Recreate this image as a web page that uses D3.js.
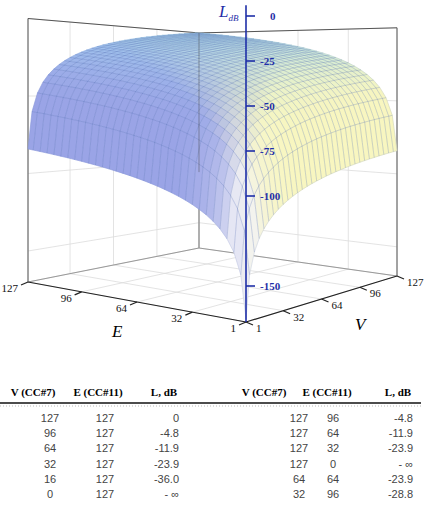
<!DOCTYPE html>
<html><head><meta charset="utf-8">
<script src="https://cdn.jsdelivr.net/npm/d3@7"></script>
<style>body{margin:0;background:#fff}svg{display:block}</style>
</head><body>
<svg id="chart" width="427" height="514"></svg>
<script>
// controller grid values (same for V and E) and the per-controller gain in dB read at each one
var ctrlSteps = [1,4,8,12,16,20,24,28,32,36,40,44,48,52,56,60,64,68,72,76,80,84,88,92,96,100,104,108,112,116,120,124,127];
var gainDb = [-84.15,-60.07,-48.03,-40.98,-36.0,-32.11,-28.94,-26.27,-23.94,-21.9,-20.07,-18.41,-16.9,-15.51,-14.22,-13.03,-11.9,-10.85,-9.86,-8.92,-8.03,-7.18,-6.37,-5.6,-4.86,-4.15,-3.47,-2.82,-2.18,-1.57,-0.98,-0.42,0];
var axisTicks = [1,32,64,96,127];
var zTicks = [0,-25,-50,-75,-100,-150];
var zGrid = [-150,-100,-50,0];
var tableHead = ["V  (CC#7)","E (CC#11)","L, dB","V  (CC#7)","E (CC#11)","L, dB"];
var tableLeft = [["127","127","0"],["96","127","-4.8"],["64","127","-11.9"],["32","127","-23.9"],["16","127","-36.0"],["0","127","- \u221e"]];
var tableRight = [["127","96","-4.8"],["127","64","-11.9"],["127","32","-23.9"],["127","0","- \u221e"],["64","64","-23.9"],["32","96","-28.8"]];

var svg = d3.select("#chart");
var u = d3.scaleLinear().domain([1,127]).range([0,1]);
var zf = -170;
// floor corners: front, E=127 end, V=127 end, back
var C = {f:[246,322,1.8], e:[28,282,1.55], v:[397,276,1.46], b:[199,248,1.265]};
function proj(E, V, z) {
  var a = u(E), c = u(V), r = [];
  for (var i = 0; i < 3; i++)
    r[i] = C.f[i]*(1-a)*(1-c) + C.e[i]*a*(1-c) + C.v[i]*(1-a)*c + C.b[i]*a*c;
  return [r[0], r[1] - (z - zf) * r[2]];
}
var line = d3.line();
var g = svg.append("g");

// back walls and floor grid
var grid = g.append("g").attr("stroke", "#dcdcdc").attr("fill", "none").attr("stroke-width", 0.8);
axisTicks.forEach(function(t) {
  grid.append("path").attr("d", line([proj(127, t, zf), proj(127, t, 0)]));
  grid.append("path").attr("d", line([proj(t, 127, zf), proj(t, 127, 0)]));
  grid.append("path").attr("d", line([proj(t, 1, zf), proj(t, 127, zf)]));
  grid.append("path").attr("d", line([proj(1, t, zf), proj(127, t, zf)]));
});
zGrid.forEach(function(z) {
  grid.append("path").attr("d", line([proj(127, 1, z), proj(127, 127, z), proj(1, 127, z)]));
});
var box = g.append("g").attr("stroke", "#555").attr("fill", "none").attr("stroke-width", 1);
box.append("path").attr("d", line([proj(127,1,zf), proj(127,1,0), proj(127,127,0), proj(1,127,0), proj(1,127,zf)]));
box.append("path").attr("d", line([proj(127,127,zf), proj(127,127,0)])).attr("stroke", "#777");
box.append("path").attr("d", line([proj(127,1,zf), proj(127,127,zf), proj(1,127,zf)])).attr("stroke", "#999");

// surface
var lav = "#9aa4e6", yel = "#f8f6c0", cyan = "#a6def3";
var quads = [];
var n = ctrlSteps.length;
for (var i = 0; i < n - 1; i++) for (var j = 0; j < n - 1; j++) {
  var E0 = ctrlSteps[i], E1 = ctrlSteps[i+1], V0 = ctrlSteps[j], V1 = ctrlSteps[j+1];
  var z00 = gainDb[i] + gainDb[j], z10 = gainDb[i+1] + gainDb[j], z01 = gainDb[i] + gainDb[j+1], z11 = gainDb[i+1] + gainDb[j+1];
  var gE = (gainDb[i+1] - gainDb[i]) / (E1 - E0), gV = (gainDb[j+1] - gainDb[j]) / (V1 - V0);
  var m = gE + gV;
  var t = gE / (gE + gV);
  var base = d3.interpolateRgb(lav, yel)(d3.scaleLinear().domain([0.3, 0.7]).clamp(true)(t));
  var flat = Math.exp(-m / 0.5);
  var col = d3.interpolateRgb(base, cyan)(Math.min(1, flat * 1.3));
  var both = Math.min(gE, gV);
  if (both > 0.4) col = d3.interpolateRgb(col, "#f2f2f6")(Math.min(0.85, (both - 0.4) / 1.5));
  quads.push({d: i + j, col: col,
    pts: [proj(E0,V0,z00), proj(E1,V0,z10), proj(E1,V1,z11), proj(E0,V1,z01)]});
}
quads.sort(function(a, b) { return b.d - a.d; });
g.append("g").selectAll("path").data(quads).join("path")
  .attr("d", function(q) { return line(q.pts) + "Z"; })
  .attr("fill", function(q) { return q.col; })
  .attr("stroke", function(q) { return q.col; }).attr("stroke-width", 0.6);
g.append("g").selectAll("path").data(quads).join("path")
  .attr("d", function(q) { return line(q.pts) + "Z"; })
  .attr("fill", "none").attr("stroke", "#5a6fb8").attr("stroke-opacity", 0.3).attr("stroke-width", 0.5);
// back vertical seen through surface
g.append("path").attr("d", line([proj(127,127,-110), proj(127,127,0)])).attr("stroke", "#444").attr("stroke-opacity", 0.45);

// front axes
var ax = g.append("g").attr("stroke", "#222").attr("stroke-width", 1.2).attr("fill", "none");
ax.append("path").attr("d", line([proj(127,1,zf), proj(1,1,zf), proj(1,127,zf)]));
var lab = g.append("g").attr("font-family", "Liberation Serif, serif").attr("font-size", 11).attr("fill", "#111");
axisTicks.forEach(function(t) {
  var p = proj(t, 1, zf), q = proj(1, t, zf);
  ax.append("path").attr("d", line([p, [p[0] - 7, p[1] + 3]]));
  ax.append("path").attr("d", line([q, [q[0] + 7, q[1] + 3]]));
  lab.append("text").attr("x", p[0] - 10).attr("y", p[1] + 10).attr("text-anchor", "end").text(t);
  lab.append("text").attr("x", q[0] + 10).attr("y", q[1] + 10).text(t);
});
g.append("text").attr("x", 112).attr("y", 337).attr("font-family", "Liberation Serif, serif").attr("font-style", "italic").attr("font-size", 17).text("E");
g.append("text").attr("x", 355).attr("y", 330).attr("font-family", "Liberation Serif, serif").attr("font-style", "italic").attr("font-size", 17).text("V");

// L axis
var fz = proj(1, 1, zf);
var zs = d3.scaleLinear().domain([zf, 0]).range([fz[1], fz[1] - (0 - zf) * C.f[2]]);
var zAx = g.append("g").attr("stroke", "#1f2fa8").attr("stroke-width", 1.6);
zAx.append("line").attr("x1", fz[0]).attr("x2", fz[0]).attr("y1", fz[1]).attr("y2", zs(6));
zTicks.forEach(function(t) {
  zAx.append("line").attr("x1", fz[0]).attr("x2", fz[0] + 9).attr("y1", zs(t)).attr("y2", zs(t));
  g.append("text").attr("x", fz[0] + (t === 0 ? 24 : 14)).attr("y", zs(t) + 4)
    .attr("font-family", "Liberation Serif, serif").attr("font-size", 11).attr("font-weight", "bold")
    .attr("fill", "#1f2fa8").text(t);
});
var lt = g.append("text").attr("x", 219).attr("y", 17).attr("font-family", "Liberation Serif, serif")
  .attr("font-style", "italic").attr("fill", "#1f2fa8");
lt.append("tspan").attr("font-size", 17).text("L");
lt.append("tspan").attr("font-size", 9).attr("dy", 4).text("dB");

// table
var colX = [33, 98, 164, 264, 327, 398];
var valX = [50, 105, 179, 299, 333, 413];
var valAnchor = ["middle","middle","end","middle","middle","end"];
var tb = svg.append("g");
tb.selectAll("text.h").data(tableHead).join("text").attr("class", "h")
  .attr("x", function(d, i) { return colX[i]; }).attr("y", 396).attr("text-anchor", "middle")
  .attr("font-family", "Liberation Serif, serif").attr("font-size", 11).attr("font-weight", "bold").text(function(d) { return d; });
tb.append("line").attr("x1", 0).attr("x2", 421).attr("y1", 403).attr("y2", 403).attr("stroke", "#111").attr("stroke-width", 1.5);
tb.append("line").attr("x1", 0).attr("x2", 421).attr("y1", 406).attr("y2", 406).attr("stroke", "#bbb").attr("stroke-dasharray", "1,2");
tableLeft.forEach(function(r, k) {
  r.concat(tableRight[k]).forEach(function(v, i) {
    tb.append("text").attr("x", valX[i]).attr("y", 422 + k * 15.2).attr("text-anchor", valAnchor[i])
      .attr("font-family", "Liberation Sans, Arial, sans-serif").attr("font-size", 11).attr("fill", "#444").text(v);
  });
});
</script>
</body></html>
